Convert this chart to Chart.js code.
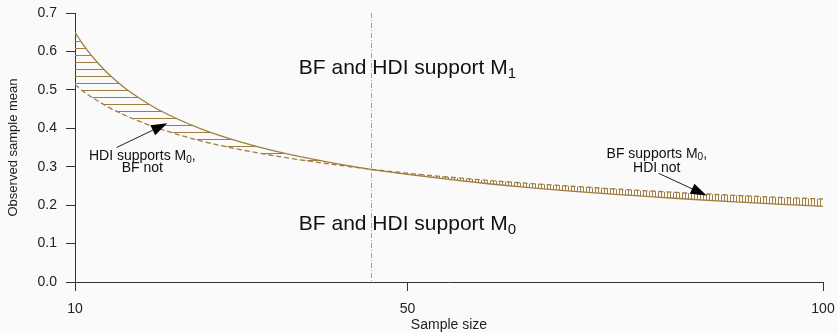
<!DOCTYPE html>
<html><head><meta charset="utf-8">
<script src="https://cdn.jsdelivr.net/npm/chart.js@4/dist/chart.umd.min.js"></script>
<style>html,body{margin:0;padding:0;background:#fafafa;}#wrap{width:838px;height:333px;}</style>
</head><body><div id="wrap"><canvas id="c" width="838" height="333"></canvas></div>
<script>
// ---- data ----
const sampleSizes = [10,11,12,13,14,16,18,20,25,30,35,40,45,50,55,60,65,70,75,80,85,90,95,100];
const hdiBoundary = [0.650,0.617,0.589,0.564,0.542,0.505,0.475,0.449,0.400,0.364,0.336,0.314,0.295,0.280,0.267,0.255,0.245,0.236,0.228,0.221,0.214,0.208,0.202,0.197];
const bfBoundary  = [0.514,0.496,0.481,0.468,0.455,0.434,0.416,0.400,0.368,0.344,0.325,0.309,0.295,0.283,0.273,0.264,0.256,0.249,0.242,0.236,0.230,0.225,0.220,0.216];
const xTicks = [10, 50, 100];
const yTicks = [0, 0.1, 0.2, 0.3, 0.4, 0.5, 0.6, 0.7];
const crossingSize = 45.6;
const xTitle = 'Sample size';
const yTitle = 'Observed sample mean';
// labels: [x, y, main, sub, tail, fontSize]
const labels = [
  [50, 0.556, 'BF and HDI support M', '1', '', 21],
  [50, 0.151, 'BF and HDI support M', '0', '', 21],
  [18.1, 0.327, 'HDI supports M', '0', ',', 14],
  [18.1, 0.297, 'BF not', '', '', 14],
  [80.0, 0.334, 'BF supports M', '0', ',', 14],
  [80.0, 0.297, 'HDI not', '', '', 14]
];
// arrows: [tailX, tailY, tipX, tipY]
const arrows = [
  [15.0, 0.350, 21.1, 0.413],
  [80.2, 0.283, 86.0, 0.225]
];

const BROWN = '#a07e42';
const FONT = '"Liberation Sans", Arial, sans-serif';

function makePattern(w, h, draw) {
  const c = document.createElement('canvas');
  c.width = w; c.height = h;
  const g = c.getContext('2d');
  g.fillStyle = BROWN;
  draw(g);
  return g.createPattern(c, 'repeat');
}
const hatchH = makePattern(8, 7, g => g.fillRect(0, 6, 8, 1));
const hatchV = makePattern(3, 8, g => g.fillRect(1, 0, 1, 8));

const pts = arr => sampleSizes.map((n, i) => ({x: n, y: arr[i]}));

const decor = {
  id: 'decor',
  afterDatasetsDraw(chart) {
    const {ctx, scales: {x, y}} = chart;
    ctx.save();
    // vertical dash-dot line
    ctx.strokeStyle = '#a0a0a0';
    ctx.lineWidth = 1;
    ctx.setLineDash([5, 2, 1, 2]);
    const vx = Math.round(x.getPixelForValue(crossingSize)) + 0.5;
    ctx.beginPath();
    ctx.moveTo(vx, y.getPixelForValue(0.7));
    ctx.lineTo(vx, y.getPixelForValue(0));
    ctx.stroke();
    ctx.setLineDash([]);
    // arrows
    ctx.strokeStyle = '#222';
    ctx.fillStyle = '#000';
    for (const [tx, ty, hx, hy] of arrows) {
      const x0 = x.getPixelForValue(tx), y0 = y.getPixelForValue(ty);
      const x1 = x.getPixelForValue(hx), y1 = y.getPixelForValue(hy);
      const a = Math.atan2(y1 - y0, x1 - x0);
      const L = 16, W = 5.5;
      ctx.beginPath();
      ctx.moveTo(x0, y0);
      ctx.lineTo(x1 - L * Math.cos(a), y1 - L * Math.sin(a));
      ctx.stroke();
      ctx.beginPath();
      ctx.moveTo(x1, y1);
      ctx.lineTo(x1 - L * Math.cos(a) - W * Math.sin(a), y1 - L * Math.sin(a) + W * Math.cos(a));
      ctx.lineTo(x1 - L * Math.cos(a) + W * Math.sin(a), y1 - L * Math.sin(a) - W * Math.cos(a));
      ctx.closePath();
      ctx.fill();
    }
    // labels with subscripts
    ctx.fillStyle = '#111';
    ctx.textBaseline = 'middle';
    ctx.textAlign = 'left';
    for (const [lx, ly, main, sub, tail, size] of labels) {
      const subSize = Math.round(size * 0.72);
      ctx.font = `${size}px ${FONT}`;
      const w1 = ctx.measureText(main).width;
      const w3 = ctx.measureText(tail).width;
      ctx.font = `${subSize}px ${FONT}`;
      const w2 = sub ? ctx.measureText(sub).width : 0;
      const px = x.getPixelForValue(lx), py = y.getPixelForValue(ly);
      let sx = px - (w1 + w2 + w3) / 2;
      ctx.font = `${size}px ${FONT}`;
      ctx.fillText(main, sx, py);
      if (sub) {
        ctx.font = `${subSize}px ${FONT}`;
        ctx.fillText(sub, sx + w1, py + size * 0.28);
      }
      if (tail) {
        ctx.font = `${size}px ${FONT}`;
        ctx.fillText(tail, sx + w1 + w2, py);
      }
    }
    ctx.restore();
  }
};

const bg = {
  id: 'bg',
  beforeDraw(chart) {
    const {ctx} = chart;
    ctx.save();
    ctx.fillStyle = '#fafafa';
    ctx.fillRect(0, 0, chart.width, chart.height);
    ctx.restore();
  }
};

new Chart(document.getElementById('c'), {
  type: 'line',
  data: {
    datasets: [
      {
        label: 'HDI boundary',
        data: pts(hdiBoundary),
        borderColor: BROWN,
        borderWidth: 1.3,
        pointRadius: 0,
        cubicInterpolationMode: 'monotone',
        fill: {target: 1, above: hatchH, below: hatchV}
      },
      {
        label: 'BF boundary',
        data: pts(bfBoundary),
        borderColor: BROWN,
        borderWidth: 1.3,
        borderDash: [5, 3],
        pointRadius: 0,
        cubicInterpolationMode: 'monotone',
        fill: false
      }
    ]
  },
  options: {
    responsive: false,
    animation: false,
    devicePixelRatio: 1,
    layout: {autoPadding: false, padding: {top: 13, right: 15, left: 0, bottom: 0}},
    plugins: {legend: {display: false}, tooltip: {enabled: false}},
    scales: {
      x: {
        type: 'linear', min: 10, max: 100,
        afterBuildTicks: s => { s.ticks = xTicks.map(v => ({value: v})); },
        afterFit: s => { s.height = 51; s.paddingLeft = 0; s.paddingRight = 0; },
        grid: {drawOnChartArea: false, drawTicks: true, tickLength: 9, color: '#333', tickColor: '#333'},
        border: {display: true, color: '#333', width: 1},
        ticks: {font: {size: 14, family: FONT}, color: '#222', padding: 10, maxRotation: 0, autoSkip: false},
        title: {display: true, text: xTitle, font: {size: 14, family: FONT}, color: '#222', padding: {top: 0, bottom: -1}}
      },
      y: {
        min: 0, max: 0.7,
        afterBuildTicks: s => { s.ticks = yTicks.map(v => ({value: v})); },
        afterFit: s => { s.width = 75; s.paddingTop = 0; s.paddingBottom = 0; },
        grid: {drawOnChartArea: false, drawTicks: true, tickLength: 9, color: '#333', tickColor: '#333'},
        border: {display: true, color: '#333', width: 1},
        ticks: {font: {size: 14, family: FONT}, color: '#222', padding: 9, autoSkip: false, callback: v => Number(v).toFixed(1)},
        title: {display: true, text: yTitle, font: {size: 13, family: FONT}, color: '#222', padding: {top: 6, bottom: 0}}
      }
    }
  },
  plugins: [bg, decor]
});
</script></body></html>
